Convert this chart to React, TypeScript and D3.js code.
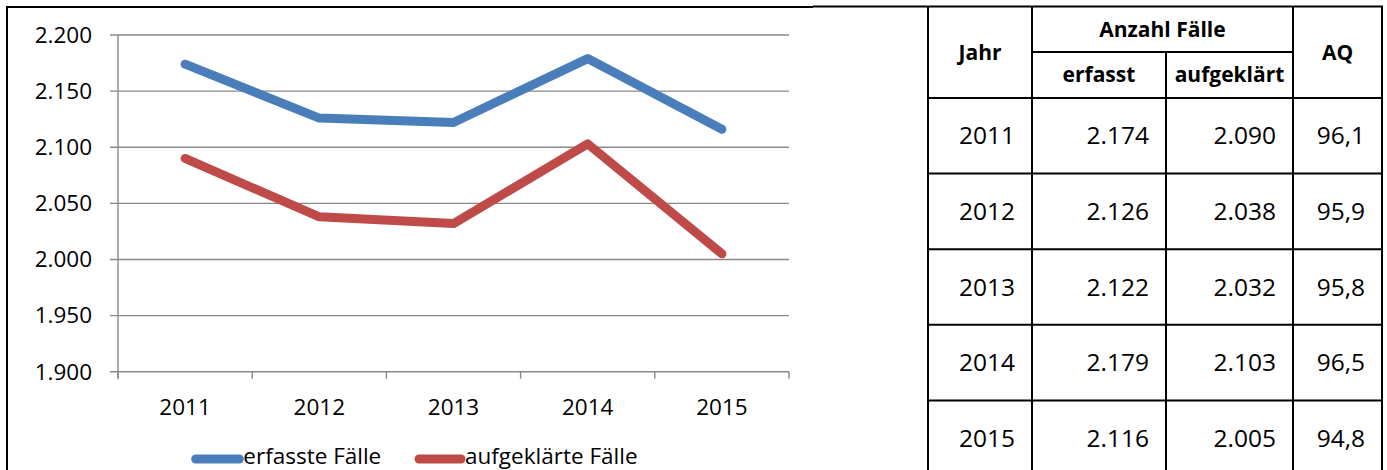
import React from 'react';
import * as d3 from 'd3';

// chart + table data
const years = ['2011', '2012', '2013', '2014', '2015'];
const erfasst = [2174, 2126, 2122, 2179, 2116];
const aufgeklaert = [2090, 2038, 2032, 2103, 2005];
const aq = [96.1, 95.9, 95.8, 96.5, 94.8];
const yTicks = [1900, 1950, 2000, 2050, 2100, 2150, 2200];
const seriesNames = ['erfasste Fälle', 'aufgeklärte Fälle'];
const colors = ['#4A7EBB', '#BE4B48'];

const de = d3.formatLocale({ decimal: ',', thousands: '.', grouping: [3], currency: ['', ' €'] });
const fmtInt = de.format(',d');
const fmtAq = de.format(',.1f');

const W = 1387, H = 470;
const plot = { left: 118, right: 789, top: 35, bottom: 371.7 };
const cols = [928, 1032, 1166, 1293, 1382];
const head = { top: 7, mid: 52, bottom: 98 };
const chartFont = '"Open Sans", sans-serif';

export default function App() {
  // scales for the chart
  const x = d3.scaleBand<string>().domain(years).range([plot.left, plot.right]).padding(0);
  const y = d3.scaleLinear().domain([1900, 2200]).range([plot.bottom, plot.top]);
  const line = d3.line<number>()
    .x((_, i) => x(years[i])! + x.bandwidth() / 2)
    .y(d => y(d));
  const series = [erfasst, aufgeklaert];

  // row scale for the table
  const rows = d3.scaleBand<string>().domain(years).range([head.bottom, 476]).padding(0);

  const legend = [
    { x0: 191.7, x1: 243.3 },
    { x0: 415, x1: 465 },
  ];

  const black = '#000';
  return (
    <svg width={W} height={H} style={{ position: 'absolute', left: 0, top: 0, display: 'block' }}
      fontFamily={chartFont}>
      <rect width={W} height={H} fill="#fff" />

      {/* chart frame */}
      <line x1={7} x2={7} y1={6} y2={H} stroke={black} strokeWidth={2} />
      <line x1={6} x2={813} y1={7} y2={7} stroke={black} strokeWidth={2} />

      {/* grid + y axis */}
      {yTicks.map(t => (
        <g key={t}>
          <line x1={plot.left - 8} x2={plot.right} y1={y(t)} y2={y(t)} stroke="#898989" strokeWidth={1.4} />
          <text x={92} y={y(t)} dy="0.35em" textAnchor="end" fontSize={22.5} fill="#000">{fmtInt(t)}</text>
        </g>
      ))}
      <line x1={plot.left} x2={plot.left} y1={plot.top} y2={plot.bottom + 7} stroke="#898989" strokeWidth={1.4} />
      {[...years.map(d => x(d)!), plot.right].map((v, i) => (
        <line key={i} x1={v} x2={v} y1={plot.bottom} y2={plot.bottom + 7} stroke="#898989" strokeWidth={1.4} />
      ))}
      {years.map(d => (
        <text key={d} x={x(d)! + x.bandwidth() / 2} y={415} textAnchor="middle" fontSize={22.5} fill="#000">{d}</text>
      ))}

      {/* lines */}
      {series.map((s, i) => (
        <path key={i} d={line(s)!} fill="none" stroke={colors[i]} strokeWidth={9}
          strokeLinecap="round" strokeLinejoin="round" />
      ))}

      {/* legend */}
      {legend.map((l, i) => (
        <g key={i}>
          <line x1={l.x0 + 4} x2={l.x1 - 4} y1={459} y2={459} stroke={colors[i]} strokeWidth={9} strokeLinecap="round" />
          <text x={l.x1} y={464} fontSize={22.5} fill="#000">{seriesNames[i]}</text>
        </g>
      ))}

      {/* table */}
      <g stroke={black} strokeWidth={2}>
        <line x1={813} x2={cols[4] + 1} y1={6.5} y2={6.5} />
        {cols.map((c, i) => (
          <line key={i} x1={c} x2={c} y1={i === 2 ? head.mid : 6} y2={H} />
        ))}
        <line x1={cols[1]} x2={cols[3]} y1={head.mid} y2={head.mid} />
        {[head.bottom, ...years.slice(1).map(d => rows(d)!)].map((v, i) => (
          <line key={i} x1={cols[0]} x2={cols[4]} y1={v} y2={v} />
        ))}
      </g>
      <g fontWeight="bold" fontSize={21} textAnchor="middle" fill="#000">
        <text x={(cols[0] + cols[1]) / 2} y={(head.top + head.bottom) / 2} dy="0.35em">Jahr</text>
        <text x={(cols[1] + cols[3]) / 2} y={(head.top + head.mid) / 2} dy="0.35em">Anzahl Fälle</text>
        <text x={(cols[1] + cols[2]) / 2} y={(head.mid + head.bottom) / 2} dy="0.35em">erfasst</text>
        <text x={(cols[2] + cols[3]) / 2} y={(head.mid + head.bottom) / 2} dy="0.35em">aufgeklärt</text>
        <text x={(cols[3] + cols[4]) / 2} y={(head.top + head.bottom) / 2} dy="0.35em">AQ</text>
      </g>
      <g fontSize={24.5} textAnchor="end" fill="#000">
        {years.map((d, i) => {
          const cy = rows(d)! + rows.bandwidth() / 2;
          return (
            <g key={d}>
              <text x={cols[1] - 17} y={cy} dy="0.35em">{d}</text>
              <text x={cols[2] - 17} y={cy} dy="0.35em">{fmtInt(erfasst[i])}</text>
              <text x={cols[3] - 17} y={cy} dy="0.35em">{fmtInt(aufgeklaert[i])}</text>
              <text x={cols[4] - 17} y={cy} dy="0.35em">{fmtAq(aq[i])}</text>
            </g>
          );
        })}
      </g>
    </svg>
  );
}
